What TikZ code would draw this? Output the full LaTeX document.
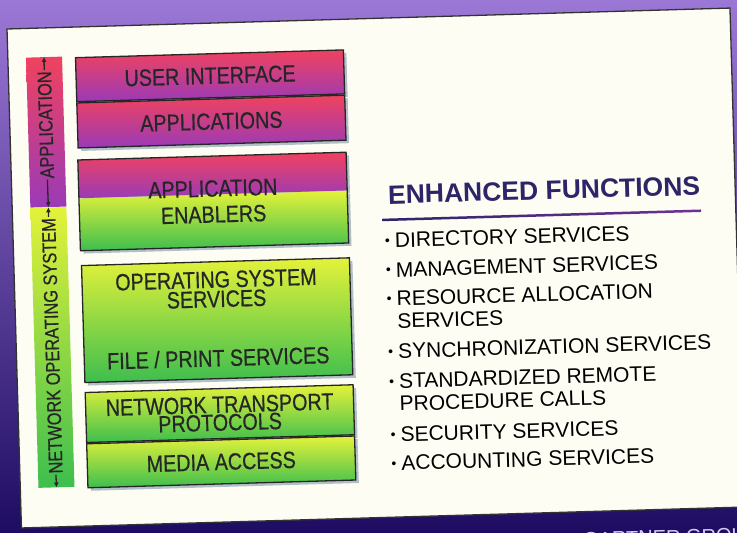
\documentclass[tikz,border=0pt]{standalone}
\usepackage{fontspec}
\setmainfont{Liberation Sans}
\newfontfamily\narrowsans[FakeStretch=0.84,FakeBold=0.6]{Liberation Sans}
\usetikzlibrary{arrows.meta,positioning,calc,shadows}
\definecolor{slidetop}{HTML}{9C78D6}
\definecolor{slidemid}{HTML}{6A3AA8}
\definecolor{slidedeep}{HTML}{1E0C62}
\definecolor{panelcream}{HTML}{FDFDF4}
\definecolor{hotpink}{HTML}{F0425E}
\definecolor{plum}{HTML}{9A3AB8}
\definecolor{lemon}{HTML}{E4F23A}
\definecolor{leaf}{HTML}{3DBE4E}
\definecolor{inkblue}{HTML}{2E2468}
\definecolor{shadowgray}{HTML}{7F97AA}
\definecolor{captionlilac}{HTML}{D4CCF0}

\tikzset{
  shadowed/.style={drop shadow={shadow xshift=3pt, shadow yshift=-3pt, fill=shadowgray, opacity=0.6}},
  boxedge/.style={draw=black!85, line width=1.3pt},
  appfill/.style={top color=hotpink, bottom color=plum, minimum width=268pt, inner sep=0pt},
  nosfill/.style={top color=lemon, bottom color=leaf, minimum width=268pt, inner sep=0pt},
  boxlabel/.style={inner sep=0pt, align=center, text=black!85,
    font=\narrowsans\fontsize{23.5}{#1}\selectfont},
  boxlabel/.default=19.5,
  appbox/.style={appfill, boxedge, shadowed, boxlabel},
  nosbox/.style={nosfill, boxedge, shadowed, boxlabel},
  bandlabel/.style={rotate=90, inner sep=1pt, text=black!85,
    font=\narrowsans\fontsize{19.5}{20}\selectfont},
  bandarrow/.style={line width=1.3pt, black!85, -{Latex[length=5pt,width=5pt]}},
  service/.style={anchor=base west, inner sep=0pt, align=left,
    font=\fontsize{21}{22.5}\selectfont},
}
\newcommand\itemdot{\llap{\raisebox{2.5pt}{\fontsize{14}{14}\selectfont\textbullet}\hspace{5pt}}}

\begin{document}
\begin{tikzpicture}[x=1pt, y=-1pt]
  \useasboundingbox (0,0) rectangle (737,533);
  \shade[top color=slidetop, middle color=slidemid, bottom color=slidedeep] (0,0) rectangle (737,533);

  \begin{scope}[shift={(7,29)}, rotate=1.66, transform shape]
    % slide panel
    \draw[fill=panelcream, draw=black!80, line width=1.3pt] (0,0) rectangle (723.3,499.2);

    % side band
    \node[appfill, minimum width=36pt, minimum height=150pt, anchor=north west] (applband) at (18,29) {};
    \node[nosfill, minimum width=36pt, minimum height=280pt, below=0pt of applband] (nosband) {};
    \node[bandlabel] (applname) at (36,97) {APPLICATION};
    \node[bandlabel] (nosname) at (36,318) {NETWORK OPERATING SYSTEM};
    \draw[bandarrow] (applname.east) -- (applband.north);
    \draw[bandarrow] (applname.west) -- (applband.south);
    \draw[bandarrow] (nosname.east) -- (nosband.north);
    \draw[bandarrow] (nosname.west) -- (nosband.south);

    % layer stack
    \node[appbox, minimum height=44pt, anchor=north west] (ui) at (67,30) {USER INTERFACE};
    \node[appbox, minimum height=45pt, below=0pt of ui] (apps) {APPLICATIONS};

    \node[appfill, shadowed, minimum height=38pt, anchor=north west] (enabtop) at (67,133) {};
    \node[nosfill, shadowed, minimum height=52pt, below=0pt of enabtop] (enabbot) {};
    \draw[boxedge] (enabtop.north west) rectangle (enabbot.south east);
    \node[boxlabel=26] (enabname) at ($(enabtop.north)!0.5!(enabbot.south)$) {APPLICATION\\ENABLERS};

    \node[nosbox, minimum height=117pt, anchor=north west] (ossvc) at (67,238) {};
    \node[boxlabel, anchor=north] (osname) at ($(ossvc.north)+(0,10)$) {OPERATING SYSTEM\\SERVICES};
    \node[boxlabel, anchor=base] (fileprint) at ($(ossvc.south)+(0,-13)$) {FILE / PRINT SERVICES};

    \node[nosbox, boxlabel=18, minimum height=50pt, anchor=north west] (transp) at (67,365) {NETWORK TRANSPORT\\PROTOCOLS};
    \node[nosbox, minimum height=44pt, below=0pt of transp] (media) {MEDIA ACCESS};

    % enhanced functions
    \node[anchor=base west, inner sep=0pt, text=inkblue,
          font=\bfseries\fontsize{26.5}{28}\selectfont] (enhanced) at (376,186) {ENHANCED FUNCTIONS};
    \shade[left color=inkblue, right color=plum!60!inkblue]
      ($(enhanced.base west)+(-6,14.5)$) rectangle ($(enhanced.base east)+(0,17)$);

    \node[service] (dirsvc) at (381.5,229.6) {\itemdot DIRECTORY SERVICES};
    \node[service] (mgmtsvc) at (381.5,259.3) {\itemdot MANAGEMENT SERVICES};
    \node[service] (ressvc) at (381.5,310.5) {\itemdot RESOURCE ALLOCATION\\SERVICES};
    \node[service] (syncsvc) at (381.5,340.6) {\itemdot SYNCHRONIZATION SERVICES};
    \node[service] (rpcsvc) at (381.5,393.1) {\itemdot STANDARDIZED REMOTE\\PROCEDURE CALLS};
    \node[service] (secsvc) at (381.5,424) {\itemdot SECURITY SERVICES};
    \node[service] (acctsvc) at (381.5,452.5) {\itemdot ACCOUNTING SERVICES};

    \node[anchor=base west, inner sep=0pt, text=captionlilac,
          font=\fontsize{20}{20}\selectfont] (source) at (561,534) {GARTNER GROUP};
  \end{scope}
\end{tikzpicture}
\end{document}
